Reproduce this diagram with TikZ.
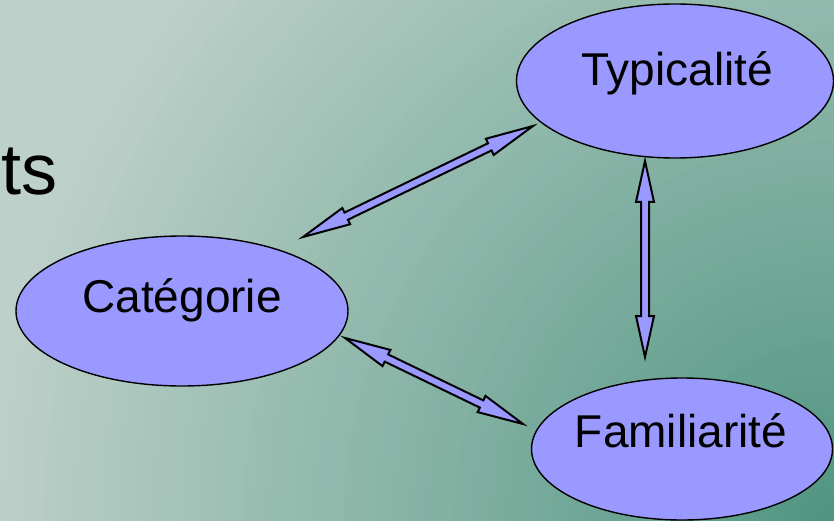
\documentclass[tikz,border=0pt]{standalone}
\usepackage{fontspec}
\setmainfont{Liberation Sans}
\usetikzlibrary{shapes.geometric,calc}
\definecolor{bgin}{HTML}{4F9580}
\definecolor{bgout}{HTML}{BDD0C9}
\definecolor{blobfill}{HTML}{9999FF}
\newcommand\arrhw{9pt}
\newcommand\arrsw{4pt}
\newcommand\blockarrow[3]{%
 \draw[blockarrowstyle] (#1)
  -- ($(#1)!#3!(#2)!\arrhw!90:(#2)$)
  -- ($(#1)!#3!(#2)!\arrsw!90:(#2)$)
  -- ($(#2)!#3!(#1)!\arrsw!-90:(#1)$)
  -- ($(#2)!#3!(#1)!\arrhw!-90:(#1)$)
  -- (#2)
  -- ($(#2)!#3!(#1)!\arrhw!90:(#1)$)
  -- ($(#2)!#3!(#1)!\arrsw!90:(#1)$)
  -- ($(#1)!#3!(#2)!\arrsw!-90:(#2)$)
  -- ($(#1)!#3!(#2)!\arrhw!-90:(#2)$)
  -- cycle;}
\tikzset{
  blob/.style={ellipse, draw=black, line width=1.4pt, fill=blobfill, inner sep=0pt},
  lbl/.style={anchor=base, inner sep=0pt, font=\fontsize{46}{50}\selectfont},
  blockarrowstyle/.style={draw=black, line width=2pt, fill=blobfill, line join=miter},
}
\begin{document}
\begin{tikzpicture}[x=1pt,y=-1pt]
\useasboundingbox (0,0) rectangle (834,521);
\fill[bgout] (0,0) rectangle (834,521);
\begin{scope}
\clip (0,0) rectangle (834,521);
\foreach \i in {85,84,...,1} {
  \pgfmathsetmacro\pc{100*\i/85}
  \fill[bgout!\pc!bgin] (834,521) circle ({\i*10pt});
}
\end{scope}
\node[anchor=base east, inner sep=0pt, font=\fontsize{72}{80}\selectfont] (ts) at (58,195) {ts};
\node[blob, minimum width=317pt, minimum height=154pt] (typ) at (675,81) {};
\node[blob, minimum width=332pt, minimum height=150pt] (cat) at (182,311) {};
\node[blob, minimum width=301pt, minimum height=142pt] (fam) at (682,449) {};
\node[lbl] (typtxt) at (677,86) {Typicalité};
\node[lbl] (cattxt) at (182,312) {Catégorie};
\node[lbl] (famtxt) at (681,447) {Familiarité};
\coordinate (a1s) at (303,237);
\coordinate (a1e) at (533,126);
\coordinate (a2s) at (645,161);
\coordinate (a2e) at (645,357);
\coordinate (a3s) at (345,338);
\coordinate (a3e) at (523,424);
\blockarrow{a1s}{a1e}{48pt}
\blockarrow{a2s}{a2e}{41pt}
\blockarrow{a3s}{a3e}{46pt}
\end{tikzpicture}
\end{document}
